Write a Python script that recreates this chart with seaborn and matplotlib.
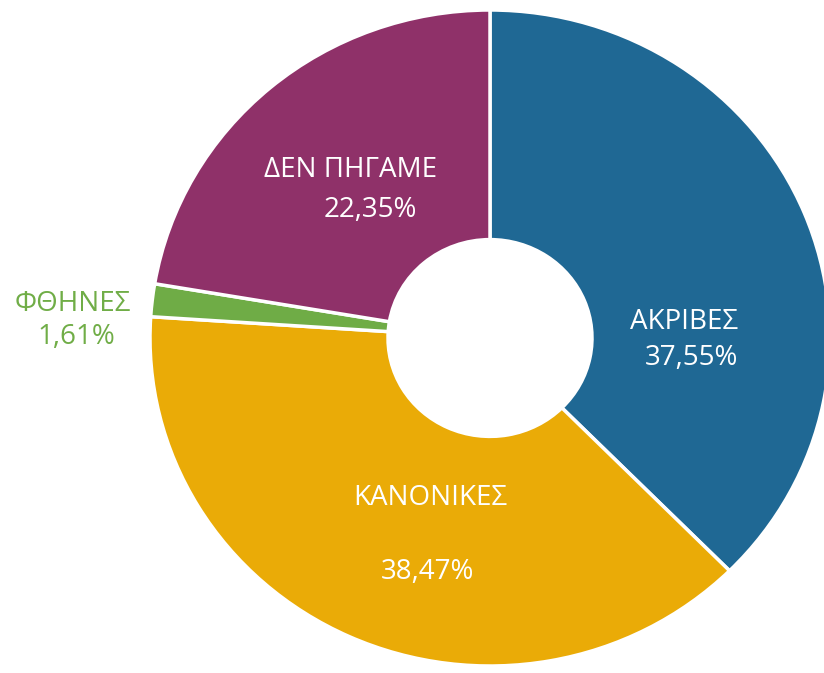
import matplotlib.pyplot as plt
import seaborn as sns

sns.set_style("white")
plt.rcParams['font.family'] = ['Open Sans', 'DejaVu Sans']

# Data
categories = ['ΑΚΡΙΒΕΣ', 'ΚΑΝΟΝΙΚΕΣ', 'ΦΘΗΝΕΣ', 'ΔΕΝ ΠΗΓΑΜΕ']
shares = [37.55, 38.47, 1.61, 22.35]
pct_labels = ['37,55%', '38,47%', '1,61%', '22,35%']
colors = ['#1f6894', '#eaab07', '#6fac46', '#8f3169']

fig = plt.figure(figsize=(8.24, 6.73), dpi=100)
ax = fig.add_axes([0, 0, 1, 1])

ax.pie(shares, colors=colors, startangle=90, counterclock=False,
       wedgeprops=dict(width=0.70, edgecolor='white', linewidth=2.5))

# the original donut is slightly stretched and cropped
ax.set_aspect('auto')
cx, cy, rx, ry = 490, 338, 340, 328
ax.set_xlim(-cx / rx, (824 - cx) / rx)
ax.set_ylim(-(673 - cy) / ry, cy / ry)
ax.axis('off')

# label positions in pixels (name line, percent line)
label_pos = [((684, 322), (692, 358)),
             ((430, 498), (428, 572)),
             ((73, 304), (76, 337)),
             ((350, 170), (370, 210))]
text_colors = ['white', 'white', '#70ad47', 'white']

for name, pct, (p1, p2), tc in zip(categories, pct_labels, label_pos, text_colors):
    ax.text(p1[0] / 824, 1 - p1[1] / 673, name, transform=ax.transAxes,
            ha='center', va='center', fontsize=20, color=tc)
    ax.text(p2[0] / 824, 1 - p2[1] / 673, pct, transform=ax.transAxes,
            ha='center', va='center', fontsize=20, color=tc)

fig.savefig('out.png', dpi=100)
